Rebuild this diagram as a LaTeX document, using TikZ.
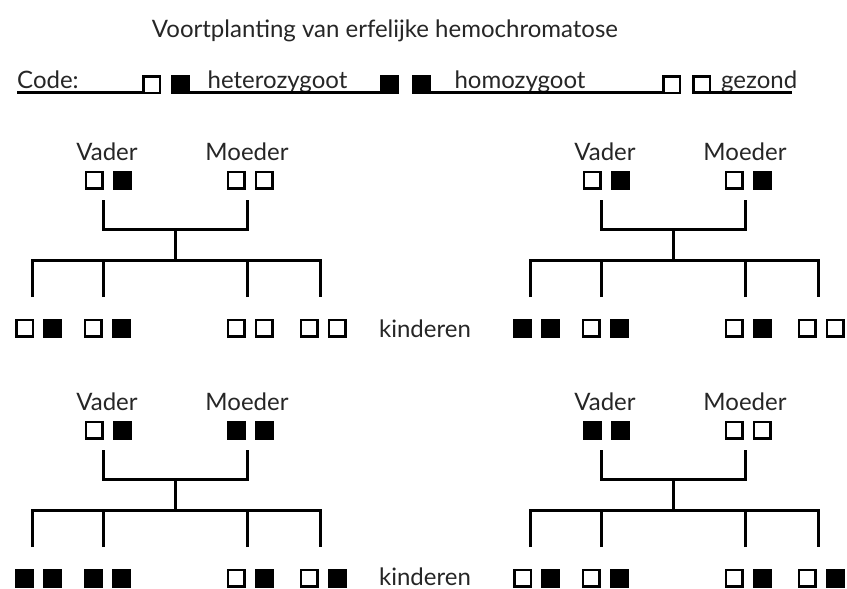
\documentclass[tikz,border=0pt]{standalone}
\usepackage{fontspec}
\setmainfont{Lato}
\newcommand{\sqpair}[4]{% name, x, y, spec a/b
  \foreach \pa/\pb in {#4}{%
    \node[\pa] (#1a) at (#2-14,#3) {};
    \node[\pb] (#1b) at (#2+14,#3) {};
  }}
\newcommand{\pedig}[8]{% prefix, shift, vader, moeder, c1..c4
  \begin{scope}[shift={#2}]
    \node[lbl] (#1vl) at (107,160) {Vader};
    \node[lbl] (#1ml) at (247,160) {Moeder};
    \sqpair{#1v}{108}{180}{#3}
    \sqpair{#1m}{250}{180}{#4}
    \sqpair{#1c1}{38.5}{328}{#5}
    \sqpair{#1c2}{107}{328}{#6}
    \sqpair{#1c3}{250}{328}{#7}
    \sqpair{#1c4}{323}{328}{#8}
    \coordinate (#1vt) at (103,200);
    \coordinate (#1mt) at (247,200);
    \coordinate (#1mid) at (175,229);
    \coordinate (#1hub) at (175,260);
    \coordinate (#1k1) at (32,297);
    \coordinate (#1k2) at (103,297);
    \coordinate (#1k3) at (247,297);
    \coordinate (#1k4) at (320,297);
    \draw[conn] (#1vt) |- (#1mid) -| (#1mt);
    \draw[conn] (#1mid) -- (#1hub);
    \draw[conn] (#1k1) |- (#1hub) -| (#1k4);
    \draw[conn] (#1k2) -- (#1k2 |- #1hub);
    \draw[conn] (#1k3) -- (#1k3 |- #1hub);
  \end{scope}}
\begin{document}
\begin{tikzpicture}[x=1pt,y=-1pt,
  sqW/.style={draw=black,fill=white,line width=2.5pt,minimum size=16.5pt,inner sep=0pt,outer sep=0pt},
  sqB/.style={draw=black,fill=black,line width=2.5pt,minimum size=16.5pt,inner sep=0pt,outer sep=0pt},
  conn/.style={line width=3pt},
  lbl/.style={font=\fontsize{24}{28}\selectfont,anchor=base,inner sep=0pt,text=black!85},
]
\useasboundingbox[fill=white] (0,0) rectangle (847,589);
% title
\node[lbl] (title) at (385,37) {Voortplanting van erfelijke hemochromatose};
% legend
\node[lbl,anchor=base west] (code) at (17,88) {Code:};
\coordinate (ulL) at (17,92.75);
\coordinate (ulR) at (792,92.75);
\node[sqW] (lw1) at (151.5,84.5) {};
\node[sqB] (lb1) at (180,84.5) {};
\node[lbl] (het) at (277.5,88) {heterozygoot};
\node[sqB] (hb1) at (389.5,84.5) {};
\node[sqB] (hb2) at (421,84.5) {};
\node[lbl] (hom) at (520,88) {homozygoot};
\node[sqW] (gw1) at (671.5,84.5) {};
\node[sqW] (gw2) at (701.5,84.5) {};
\node[lbl,anchor=base west] (gez) at (721,88) {gezond};
\draw[conn] (ulL) -- (lw1.south west);
\draw[conn] (lb1.south east) -- (hb1.south west);
\draw[conn] (hb2.south east) -- (gw1.south west);
\draw[conn] (gw2.south west) -- (ulR);
% families
\pedig{fa}{(0,0)}{sqW/sqB}{sqW/sqW}{sqW/sqB}{sqW/sqB}{sqW/sqW}{sqW/sqW}
\pedig{fb}{(498,0)}{sqW/sqB}{sqW/sqB}{sqB/sqB}{sqW/sqB}{sqW/sqB}{sqW/sqW}
\pedig{fc}{(0,250)}{sqW/sqB}{sqB/sqB}{sqB/sqB}{sqB/sqB}{sqW/sqB}{sqW/sqB}
\pedig{fd}{(498,250)}{sqB/sqB}{sqW/sqW}{sqW/sqB}{sqW/sqB}{sqW/sqB}{sqW/sqB}
\node[lbl] (kind1) at (425,337) {kinderen};
\node[lbl] (kind2) at (425,585) {kinderen};
\end{tikzpicture}
\end{document}
